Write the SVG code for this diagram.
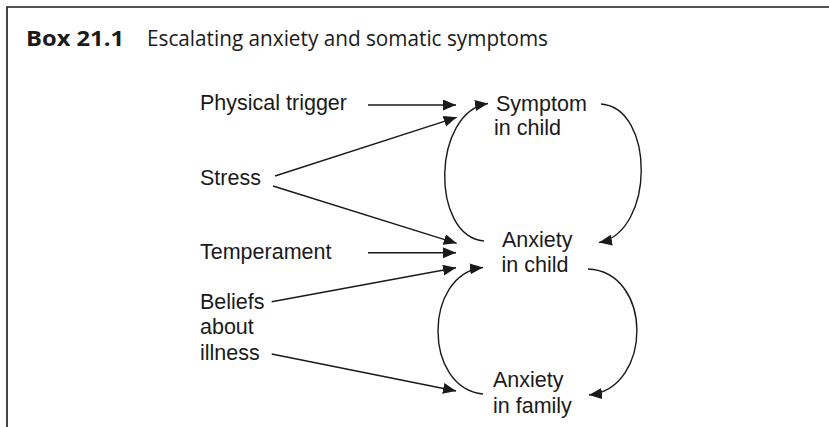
<svg xmlns="http://www.w3.org/2000/svg" width="829" height="427" viewBox="0 0 829 427">
<style>
.lbl{font-family:"Liberation Sans",Arial,sans-serif;font-size:21.5px;fill:#1a1a1a}
.ttl{font-family:"Open Sans","Noto Sans",sans-serif;font-size:21.5px;fill:#1a1a1a}
.ln{fill:none;stroke:#1a1a1a;stroke-width:1.4;marker-end:url(#ah)}
</style>
<defs>
<marker id="ah" markerUnits="userSpaceOnUse" markerWidth="14" markerHeight="12" refX="13" refY="5.5" orient="auto">
<path d="M0,0 L13,5.5 L0,11 Z" fill="#1a1a1a"/>
</marker>
</defs>
<rect width="829" height="427" fill="#fff"/>
<path d="M7,427 V7 H829" fill="none" stroke="#1a1a1a" stroke-width="1.6"/>
<g id="title">
<text class="ttl" x="26" y="46" font-weight="bold" textLength="98" lengthAdjust="spacingAndGlyphs">Box 21.1</text>
<text class="ttl" x="147" y="46" textLength="401" lengthAdjust="spacingAndGlyphs">Escalating anxiety and somatic symptoms</text>
</g>
<g id="physical-trigger"><text class="lbl" x="200" y="110">Physical trigger</text></g>
<g id="stress"><text class="lbl" x="200" y="185">Stress</text></g>
<g id="temperament"><text class="lbl" x="200" y="259">Temperament</text></g>
<g id="beliefs"><text class="lbl" x="200" y="308.5">Beliefs</text><text class="lbl" x="200" y="334">about</text><text class="lbl" x="200" y="359.5">illness</text></g>
<g id="symptom-child"><text class="lbl" x="496" y="110.5">Symptom</text><text class="lbl" x="494" y="135">in child</text></g>
<g id="anxiety-child"><text class="lbl" x="502" y="247">Anxiety</text><text class="lbl" x="501.5" y="272">in child</text></g>
<g id="anxiety-family"><text class="lbl" x="493" y="387">Anxiety</text><text class="lbl" x="493" y="413">in family</text></g>
<g id="connectors">
<path class="ln" d="M368,105 L456,105"/>
<path class="ln" d="M275,176 L456.7,117.3"/>
<path class="ln" d="M273,186 L456.7,243.3"/>
<path class="ln" d="M368,252.7 L456,252.7"/>
<path class="ln" d="M271.7,301.7 L456,267.7"/>
<path class="ln" d="M271.7,354 L456,391"/>
<path class="ln" d="M484,241 C430,236 432,112 488,103.5"/>
<path class="ln" d="M601,104 C655,108 655,232 599,242.5"/>
<path class="ln" d="M483,394 C423,388 423,274 483,267.5"/>
<path class="ln" d="M588,269 C653,272 653,388 589,395"/>
</g>
</svg>
